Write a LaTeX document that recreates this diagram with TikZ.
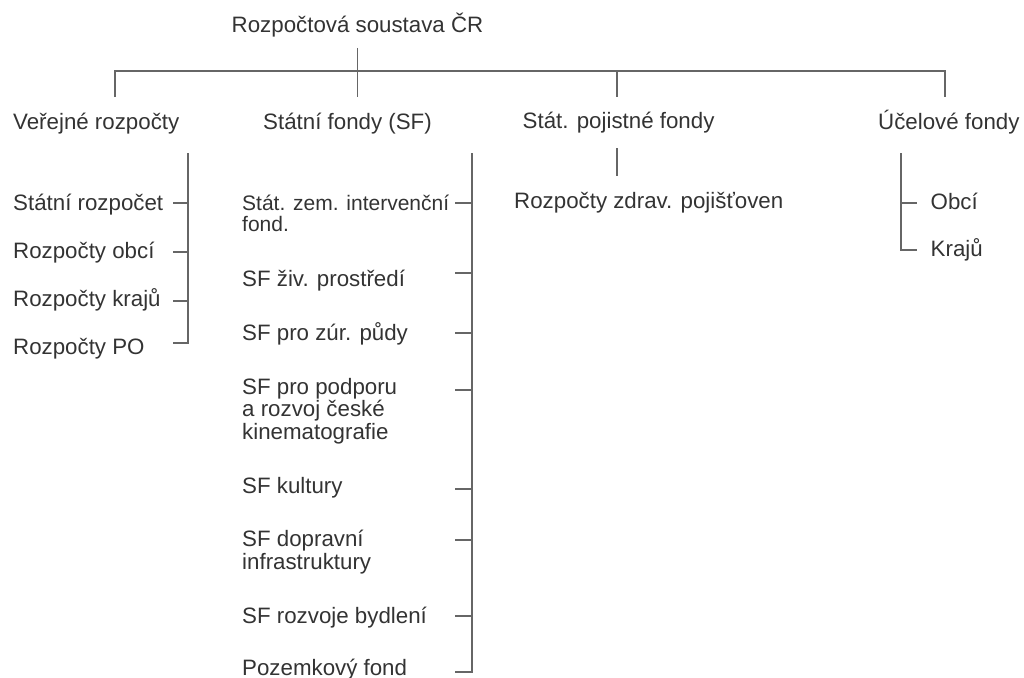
\documentclass[tikz,border=0pt]{standalone}
\usepackage{fontspec}
\setmainfont{Liberation Sans}
\definecolor{txtgray}{HTML}{333333}
\definecolor{linegray}{HTML}{666666}
\begin{document}
\begin{tikzpicture}[x=1pt,y=-1pt,
  lbl/.style={anchor=base west, inner sep=0pt, text=txtgray,
    font=\fontsize{22.3}{22.5}\selectfont, align=left},
  conn/.style={draw=linegray, line width=1.7pt}]
\useasboundingbox (0,0) rectangle (1024,677);

% root and first level
\node[lbl] (root) at (231.5,32.7) {Rozpočtová soustava ČR};
\node[lbl] (vr)   at (13,129.3)   {Veřejné rozpočty};
\node[lbl] (sf)   at (263,129.3)  {Státní fondy (SF)};
\node[lbl] (spf)  at (522.5,128.6) {Stát. pojistné fondy};
\node[lbl] (uf)   at (878,129.3)  {Účelové fondy};

% public budgets
\node[lbl] (vr1) at (13,210.7) {Státní rozpočet};
\node[lbl] (vr2) at (13,258.5) {Rozpočty obcí};
\node[lbl] (vr3) at (13,306.7) {Rozpočty krajů};
\node[lbl] (vr4) at (13,354)   {Rozpočty PO};

% state funds (multi-line nodes sit on the baseline of their last line)
\node[lbl, font=\fontsize{21}{20.5}\selectfont] (sf1) at (242,231.2) {Stát. zem. intervenční\\fond.};
\node[lbl] (sf2) at (242,286.7) {SF živ. prostředí};
\node[lbl] (sf3) at (242,340)   {SF pro zúr. půdy};
\node[lbl] (sf4) at (242,439)   {SF pro podporu\\a rozvoj české\\kinematografie};
\node[lbl] (sf5) at (242,493.3) {SF kultury};
\node[lbl] (sf6) at (242,569)   {SF dopravní\\infrastruktury};
\node[lbl] (sf7) at (242,623.3) {SF rozvoje bydlení};
\node[lbl] (sf8) at (242,675)   {Pozemkový fond};

% insurance funds
\node[lbl] (spf1) at (514,208.3) {Rozpočty zdrav. pojišťoven};

% purpose funds
\node[lbl] (uf1) at (930.5,209.5) {Obcí};
\node[lbl] (uf2) at (930.5,256.7) {Krajů};

% top level bus
\coordinate (bus) at (root.south |- 0,71);
\draw[conn] (root.south |- 0,48) -- (root.south |- 0,97);
\draw[conn] (115,97) -- (115,71) -- (bus) -- (945,71) -- (945,97);
\draw[conn] (617,71) -- (617,97);

% bracket of public budgets
\draw[conn] (188,153) -- (188,343) -- (173,343);
\foreach \y in {203,251.7,300.7} \draw[conn] (173,\y) -- (188,\y);

% bracket of state funds
\draw[conn] (472,153) -- (472,671.7) -- (455,671.7);
\foreach \y in {203,273,333,390,489,540,616} \draw[conn] (455,\y) -- (472,\y);

% insurance funds
\draw[conn] (617,148.3) -- (617,176);

% bracket of purpose funds
\draw[conn] (901,153) -- (901,250) -- (917,250);
\draw[conn] (901,203.3) -- (917,203.3);
\end{tikzpicture}
\end{document}
